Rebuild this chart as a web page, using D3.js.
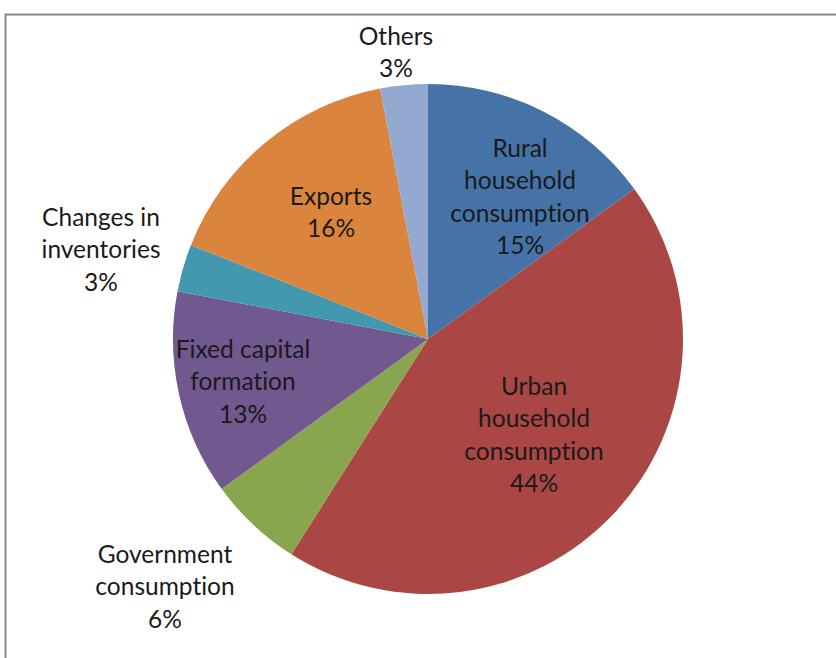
<!DOCTYPE html>
<html>
<head>
<meta charset="utf-8">
<script src="https://cdn.jsdelivr.net/npm/d3@7"></script>
<style>
  html, body { margin: 0; padding: 0; background: #fff; }
  svg { display: block; }
  text { font-family: Lato, "Noto Sans", sans-serif; fill: #1a1a1a; font-variant-ligatures: none; }
</style>
</head>
<body>
<svg id="chart" width="836" height="658"></svg>
<script>
// GDP expenditure shares, clockwise from 12 o'clock
const categories = [
  "Rural household consumption",
  "Urban household consumption",
  "Government consumption",
  "Fixed capital formation",
  "Changes in inventories",
  "Exports",
  "Others"
];
const shares = [15, 44, 6, 13, 3, 16, 3];
const colors = ["#4572A7", "#AA4643", "#89A54E", "#71588F", "#4198AF", "#DB843D", "#93A9CF"];

// Label text lines (without the percentage) and placement per slice
const labelLines = [
  ["Rural", "household", "consumption"],
  ["Urban", "household", "consumption"],
  ["Government", "consumption"],
  ["Fixed capital", "formation"],
  ["Changes in", "inventories"],
  ["Exports"],
  ["Others"]
];
// label anchor: [x, y of first line centre]
const labelPos = [
  [520, 148],
  [534, 386],
  [165, 554],
  [243, 349],
  [101, 217],
  [331, 196],
  [396, 36]
];

const svg = d3.select("#chart");
const cx = 428, cy = 339, r = 255;
const lineH = 32.5;

// outer frame
svg.append("rect")
  .attr("x", 5.5).attr("y", 14.5)
  .attr("width", 900).attr("height", 700)
  .attr("fill", "none")
  .attr("stroke", "#8a8a8a")
  .attr("stroke-width", 2);

const data = categories.map((c, i) => ({ name: c, value: shares[i], color: colors[i], lines: labelLines[i], pos: labelPos[i] }));

const pie = d3.pie().value(d => d.value).sort(null);
const arc = d3.arc().innerRadius(0).outerRadius(r);

const g = svg.append("g").attr("transform", `translate(${cx},${cy})`);
g.selectAll("path")
  .data(pie(data))
  .join("path")
  .attr("d", arc)
  .attr("fill", d => d.data.color);

const fmt = d3.format(".0f");
const labels = svg.append("g")
  .selectAll("text")
  .data(data)
  .join("text")
  .attr("text-anchor", "middle")
  .attr("font-size", 24.5);

labels.each(function(d) {
  const t = d3.select(this);
  const lines = d.lines.concat([fmt(d.value) + "%"]);
  lines.forEach((s, k) => {
    t.append("tspan")
      .attr("x", d.pos[0])
      .attr("y", d.pos[1] + k * lineH)
      .attr("dy", "0.35em")
      .text(s);
  });
});
</script>
</body>
</html>
